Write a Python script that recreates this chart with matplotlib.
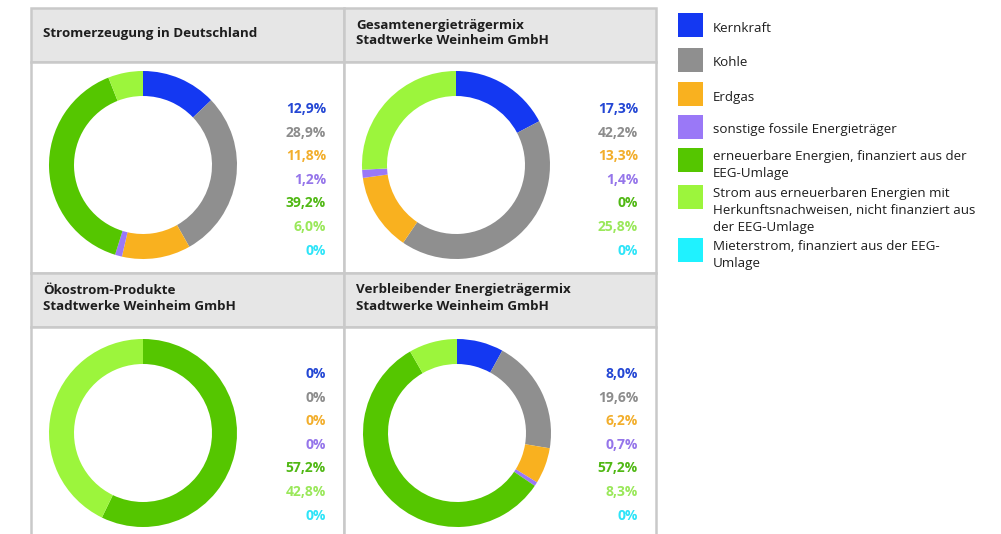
import matplotlib
matplotlib.use("Agg")
import matplotlib.pyplot as plt
from matplotlib.patches import Rectangle

plt.rcParams['font.family'] = ['Open Sans', 'DejaVu Sans']

W, H = 1001, 534

categories = ["Kernkraft", "Kohle", "Erdgas", "sonstige fossile Energieträger",
              "erneuerbare Energien, finanziert aus der\nEEG-Umlage",
              "Strom aus erneuerbaren Energien mit\nHerkunftsnachweisen, nicht finanziert aus\nder EEG-Umlage",
              "Mieterstrom, finanziert aus der EEG-\nUmlage"]

titles = ["Stromerzeugung in Deutschland",
          "Gesamtenergieträgermix\nStadtwerke Weinheim GmbH",
          "Ökostrom-Produkte\nStadtwerke Weinheim GmbH",
          "Verbleibender Energieträgermix\nStadtwerke Weinheim GmbH"]

deutschland = [12.9, 28.9, 11.8, 1.2, 39.2, 6.0, 0]
gesamt = [17.3, 42.2, 13.3, 1.4, 0, 25.8, 0]
oekostrom = [0, 0, 0, 0, 57.2, 42.8, 0]
verbleibend = [8.0, 19.6, 6.2, 0.7, 57.2, 8.3, 0]
mixes = [deutschland, gesamt, oekostrom, verbleibend]

colors = ["#1438f2", "#8f8f8f", "#f9b11f", "#9a78f7", "#55c600", "#9cf53c", "#1ff2ff"]
label_colors = ["#2447d4", "#8c8c8c", "#f2ae2c", "#9575ea", "#50b814", "#9ae85a", "#2ee4f8"]


def fx(x):
    return x / W


def fy(y):
    return 1 - y / H


def fmt(v):
    if v == 0:
        return "0%"
    return ("%.1f%%" % v).replace(".", ",")


fig = plt.figure(figsize=(W / 100, H / 100), dpi=100)
fig.patch.set_facecolor("white")

# panel grid: left/right columns, header+body rows
cols = [(31, 344), (344, 656)]
rows = [(8, 62, 273), (273, 327, 540)]
border = "#c9c9c9"

for r, (top, mid, bot) in enumerate(rows):
    for c, (left, right) in enumerate(cols):
        fig.patches.append(Rectangle((fx(left), fy(mid)), fx(right - left), (mid - top) / H,
                                     transform=fig.transFigure, facecolor="#e6e6e6",
                                     edgecolor=border, linewidth=1.8, zorder=0))
        fig.patches.append(Rectangle((fx(left), fy(bot)), fx(right - left), (bot - mid) / H,
                                     transform=fig.transFigure, facecolor="white",
                                     edgecolor=border, linewidth=1.8, zorder=0))

centers = [(143, 165), (456, 165), (143, 433), (457, 433)]
R = 94

for i, vals in enumerate(mixes):
    r, c = divmod(i, 2)
    left, right = cols[c]
    top, mid, bot = rows[r]
    fig.text(fx(left + 12), fy((top + mid) / 2 - 2), titles[i], fontsize=9.6,
             fontweight="bold", color="#1e1e1e", va="center", ha="left", linespacing=1.3)

    cx, cy = centers[i]
    ax = fig.add_axes([fx(cx - R), fy(cy + R), 2 * R / W, 2 * R / H])
    ax.set_zorder(5)
    ax.pie(vals, colors=colors, startangle=90, counterclock=False, radius=1,
           wedgeprops=dict(width=25 / R, edgecolor="none"))
    ax.set_xlim(-1, 1)
    ax.set_ylim(-1, 1)
    ax.set_aspect("equal")
    ax.axis("off")

    lx = right - 18
    ly0 = mid + 47
    for k, v in enumerate(vals):
        fig.text(fx(lx), fy(ly0 + k * 23.6), fmt(v), fontsize=10, fontweight="bold",
                 color=label_colors[k], ha="right", va="center")

# legend
swatch_tops = [13, 48, 82, 115, 148, 185, 238]
for k, name in enumerate(categories):
    t = swatch_tops[k]
    fig.patches.append(Rectangle((fx(678), fy(t + 24)), 25 / W, 24 / H,
                                 transform=fig.transFigure, facecolor=colors[k],
                                 edgecolor="none"))
    nlines = name.count("\n") + 1
    if nlines == 1:
        fig.text(fx(713), fy(t + 15), name, fontsize=9.6, color="#1e1e1e",
                 ha="left", va="center")
    else:
        fig.text(fx(713), fy(t + 2), name, fontsize=9.6, color="#1e1e1e",
                 ha="left", va="top", linespacing=1.4)

fig.savefig("out.png", dpi=100, facecolor="white")
